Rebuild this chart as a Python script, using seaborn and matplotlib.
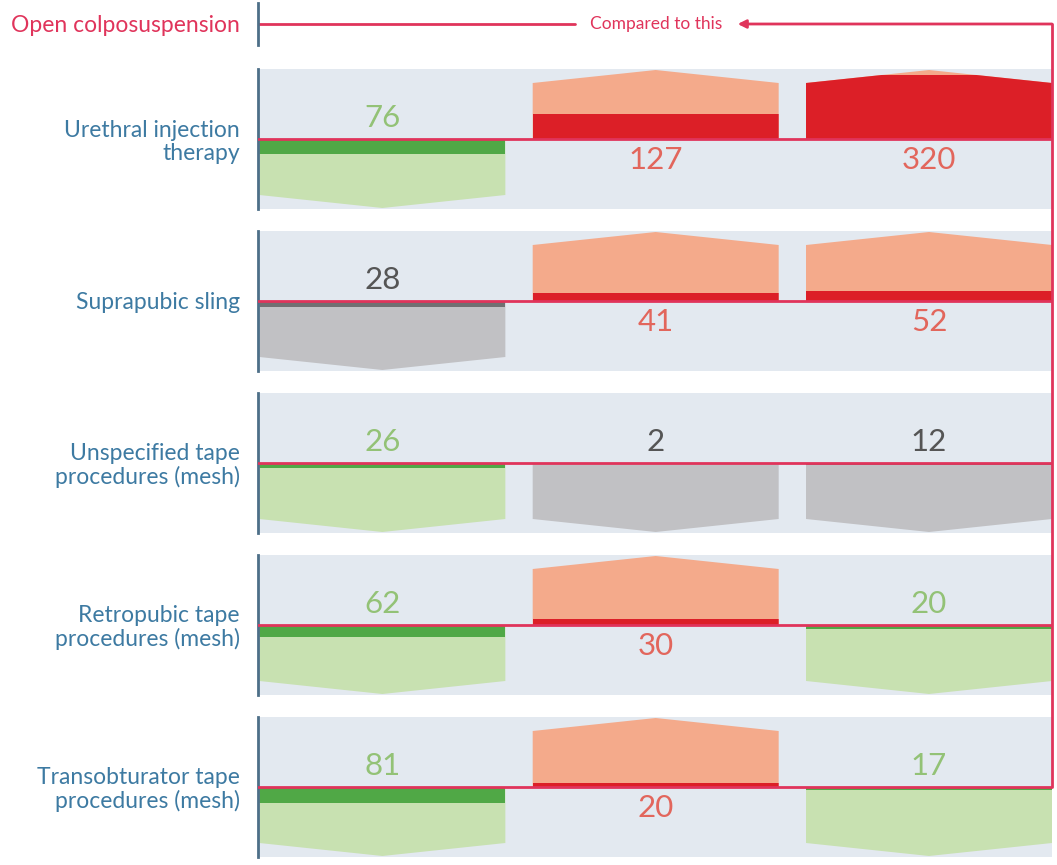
import numpy as np
import pandas as pd
import matplotlib
matplotlib.use("Agg")
import matplotlib.pyplot as plt
from matplotlib.lines import Line2D
import seaborn as sns

sns.set_theme(style="white")
plt.rcParams['font.family'] = ['Lato', 'DejaVu Sans']

# data
reference = "Open colposuspension"
procedures = ["Urethral injection\ntherapy",
              "Suprapubic sling",
              "Unspecified tape\nprocedures (mesh)",
              "Retropubic tape\nprocedures (mesh)",
              "Transobturator tape\nprocedures (mesh)"]
columns = [0, 1, 2]
urethral = [76, 127, 320]
suprapubic = [28, 41, 52]
unspecified = [26, 2, 12]
retropubic = [62, 30, 20]
transobturator = [81, 20, 17]
values = [urethral, suprapubic, unspecified, retropubic, transobturator]
results = [["better", "worse", "worse"],
           ["same", "worse", "worse"],
           ["better", "same", "same"],
           ["better", "worse", "better"],
           ["better", "worse", "better"]]

# styles
dark = {"better": "#50a846", "worse": "#dc1f27", "same": "#707072"}
light = {"better": "#c8e1b1", "worse": "#f4aa8b", "same": "#c1c1c4"}
num_col = {"better": "#93c276", "worse": "#e2665c", "same": "#555555"}
panel = "#e3e9f0"
label_col = "#3d7aa2"
spine_col = "#4d6f88"
red = "#e0345b"

W, H = 1057, 865
left_px, right_px = 258, 1052
xmin, xmax = -0.455, 2.45
bar_w = 0.9
side, peak = 280, 345   # shape size in value units (0.2 px per unit)

fig = plt.figure(figsize=(W / 100, H / 100), dpi=100)

def add_axes(top_px, h_px):
    return fig.add_axes([left_px / W, 1 - (top_px + h_px) / H,
                         (right_px - left_px) / W, h_px / H])

def style_axes(ax, label, color, size):
    ax.set_xlim(xmin, xmax)
    ax.set_xticks([])
    ax.set_xlabel("")
    ax.set_ylabel("")
    ax.set_yticks([0])
    ax.set_yticklabels([label])
    ax.tick_params(axis="y", length=0, pad=13, labelsize=size, labelcolor=color)
    for t in ax.get_yticklabels():
        t.set_multialignment("right")
        t.set_linespacing(1.1)
    for s in ["top", "right", "bottom"]:
        ax.spines[s].set_visible(False)
    ax.spines["left"].set_color(spine_col)
    ax.spines["left"].set_linewidth(2)

# header
head = add_axes(3, 42)
head.set_ylim(-1, 1)
style_axes(head, reference, red, 16.5)
head.plot([xmin, 0.705], [0, 0], color=red, lw=2)
head.text(1.0, 0, "Compared to this", ha="center", va="center",
          fontsize=12.5, color=red)
head.annotate("", xy=(1.3, 0), xytext=(xmax, 0),
              arrowprops=dict(arrowstyle="-|>", color=red, lw=2,
                              mutation_scale=12, shrinkA=0, shrinkB=0))

row_axes = []
for i in range(len(procedures)):
    ax = add_axes(69 + 162 * i, 140)
    ax.set_facecolor(panel)
    df = pd.DataFrame({"col": columns, "value": values[i], "result": results[i]})
    df["signed"] = np.where(df["result"] == "worse", df["value"], -df["value"])
    sns.barplot(data=df, x="col", y="signed", hue="result", palette=dark,
                dodge=False, width=bar_w, errorbar=None, legend=False,
                saturation=1, linewidth=0, zorder=2, ax=ax)
    bars = list(ax.patches)
    shapes = {}
    for c, v, r in zip(columns, values[i], results[i]):
        sign = 1 if r == "worse" else -1
        xs = [c - bar_w / 2, c - bar_w / 2, c, c + bar_w / 2, c + bar_w / 2]
        ys = [0, sign * side, sign * peak, sign * side, 0]
        shapes[c] = ax.fill(xs, ys, color=light[r], lw=0, zorder=1)[0]
        ax.text(c, -sign * 105, str(v), ha="center", va="center",
                fontsize=22.5, color=num_col[r], zorder=4)
    for b in bars:
        c = int(round(b.get_x() + b.get_width() / 2))
        b.set_clip_path(shapes[c])
    ax.axhline(0, color=red, lw=2, zorder=3)
    ax.set_ylim(-350, 350)
    style_axes(ax, procedures[i], label_col, 16.5)
    row_axes.append(ax)

# right connector line from the header down to the last baseline
inv = fig.transFigure.inverted()
p_top = inv.transform(head.transData.transform((xmax, 0)))
p_bot = inv.transform(row_axes[-1].transData.transform((xmax, 0)))
fig.add_artist(Line2D([p_top[0], p_bot[0]], [p_top[1], p_bot[1]],
                      transform=fig.transFigure, color=red, lw=2))

fig.savefig("out.png", dpi=100)
